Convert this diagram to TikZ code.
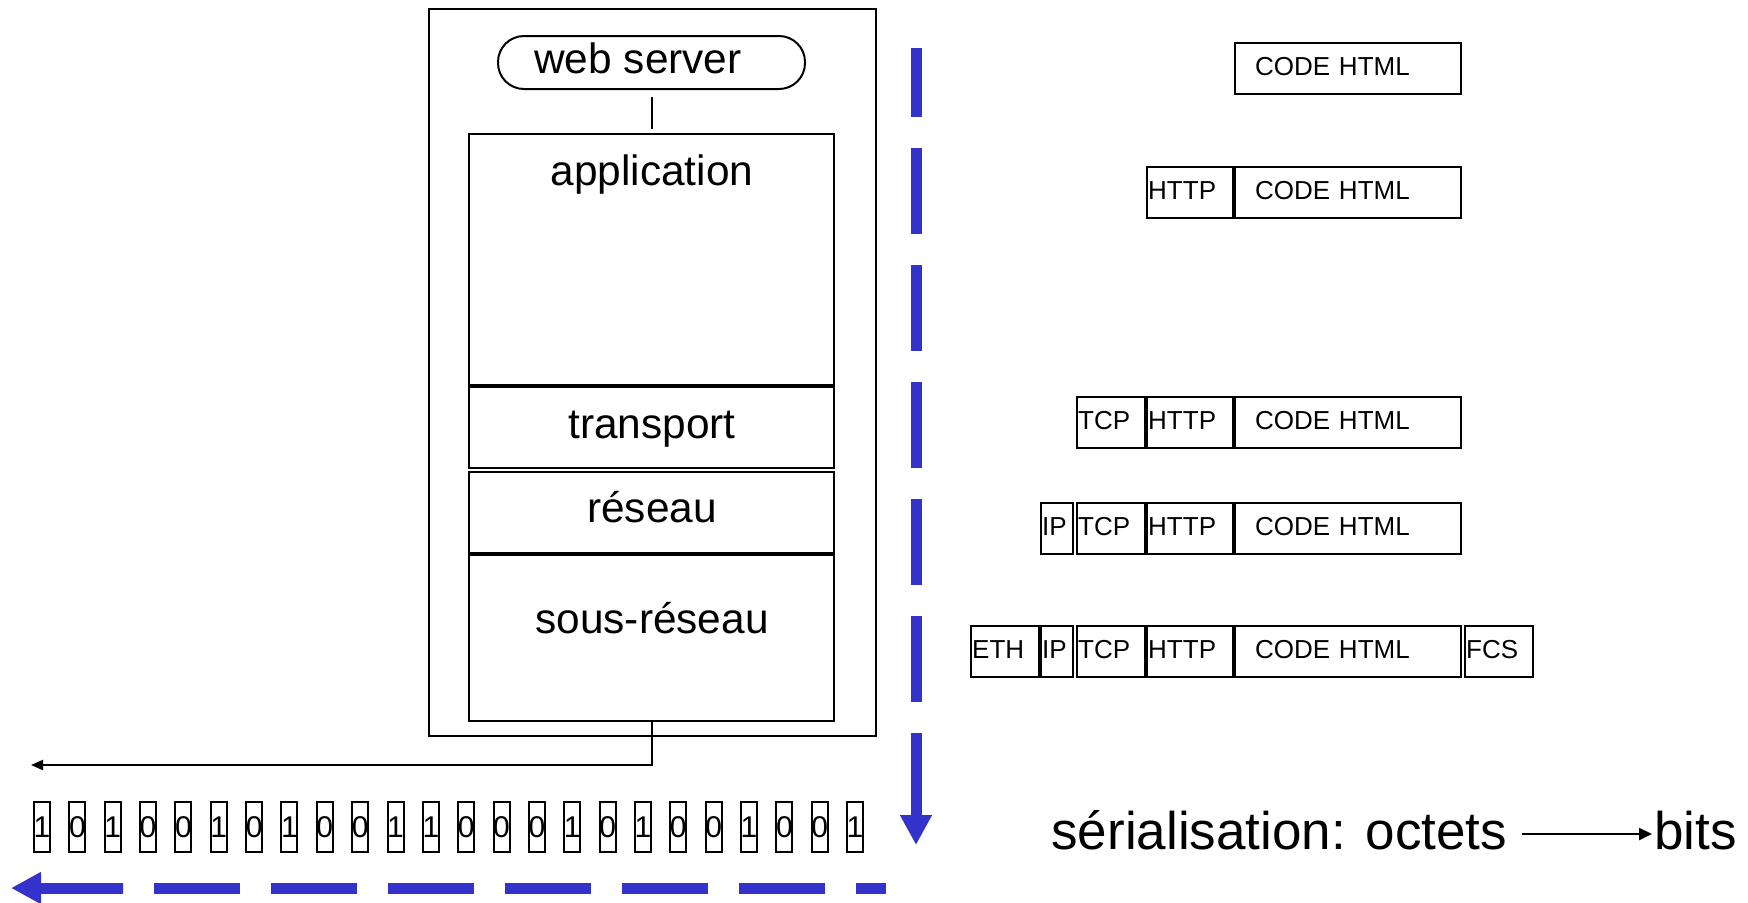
\documentclass[tikz,border=0pt]{standalone}
\usepackage{fontspec}
\setmainfont{Liberation Sans}
\usetikzlibrary{arrows.meta,fit,calc}
\definecolor{flow}{RGB}{51,51,204}

\begin{document}
\begin{tikzpicture}[x=0.5pt,y=-0.5pt,
  layer/.style={draw, line width=1pt, inner sep=0pt},
  lbl/.style={font=\fontsize{21.2}{25}\selectfont, anchor=base, inner sep=0pt},
  pkt/.style={draw, line width=1.2pt, minimum height=25.5pt, inner xsep=0.5pt,
    inner ysep=0pt, text width=#1, align=left, anchor=north west,
    text height=9.3pt, text depth=2.2pt,
    font=\fontsize{13}{15}\selectfont},
  bit/.style={draw, line width=1pt, minimum width=8pt, minimum height=25pt,
    inner sep=0pt, font=\fontsize{15}{18}\selectfont},
  wire/.style={line width=1pt},
  flowline/.style={flow, line width=5.5pt},
  flowtip/.style={flow, line width=5.5pt, -{Triangle[length=15pt,width=15pt]}},
  big/.style={font=\fontsize{26.5}{30}\selectfont, anchor=base west, inner sep=0pt},
]
\useasboundingbox (0,0) rectangle (1748,902);

% protocol stack of the host
\node[layer, fit={(429,9) (876,736)}] (host) {};
\node[layer, rounded corners=13pt, fit={(498,36) (805,89)}] (ws) {};
\node[layer, fit={(469,134) (834,385)}] (app) {};
\node[layer, fit={(469,387) (834,468)}] (trans) {};
\node[layer, fit={(469,472) (834,553)}] (net) {};
\node[layer, fit={(469,555) (834,721)}] (link) {};

\node[lbl] (wstxt) at (638,73) {web server};
\node[lbl] (apptxt) at (652,185) {application};
\node[lbl] (transtxt) at (652,438) {transport};
\node[lbl] (nettxt) at (652,522) {réseau};
\node[lbl] (linktxt) at (652,633) {sous-réseau};

\draw[wire, shorten <=3.5pt, shorten >=2pt] (ws.south) -- (app.north);
\coordinate (wireend) at (31,765);
\draw[wire, -{Triangle[length=6pt,width=5pt]}] (link.south) |- (wireend);

% encapsulation, one row per layer
\node[pkt=112pt] (c1) at (1234,42) {\hspace*{9.5pt}CODE HTML};

\node[pkt=42pt]  (h2) at (1146,166) {HTTP};
\node[pkt=112pt] (c2) at (1234,166) {\hspace*{9.5pt}CODE HTML};

\node[pkt=33pt]  (t3) at (1076,396) {TCP};
\node[pkt=42pt]  (h3) at (1146,396) {HTTP};
\node[pkt=112pt] (c3) at (1234,396) {\hspace*{9.5pt}CODE HTML};

\node[pkt=15pt]  (i4) at (1040,502) {IP};
\node[pkt=33pt]  (t4) at (1076,502) {TCP};
\node[pkt=42pt]  (h4) at (1146,502) {HTTP};
\node[pkt=112pt] (c4) at (1234,502) {\hspace*{9.5pt}CODE HTML};

\node[pkt=33pt]  (e5) at (970,625) {ETH};
\node[pkt=15pt]  (i5) at (1040,625) {IP};
\node[pkt=33pt]  (t5) at (1076,625) {TCP};
\node[pkt=42pt]  (h5) at (1146,625) {HTTP};
\node[pkt=112pt] (c5) at (1234,625) {\hspace*{9.5pt}CODE HTML};
\node[pkt=33pt]  (f5) at (1464,625) {FCS};

% bit stream
\foreach \b [count=\i from 0] in {1,0,1,0,0,1,0,1,0,0,1,1,0,0,0,1,0,1,0,0,1,0,0,1}
  \node[bit] (bit\i) at ({42+35.35*\i},827) {\makebox[0pt]{\b}};

% downward and leftward flow
\coordinate (vtop) at (916,48);
\coordinate (vmid) at (916,733);
\coordinate (vend) at (916,845);
\draw[flowline, dash pattern=on 43pt off 15.5pt, dash phase=8.5pt] (vtop) -- (vmid);
\draw[flowtip] (vmid) -- (vend);

\coordinate (hstart) at (886,888);
\coordinate (hmid) at (123,888);
\coordinate (hend) at (11,888);
\draw[flowline, dash pattern=on 43pt off 15.5pt, dash phase=28pt] (hstart) -- (hmid);
\draw[flowtip] (hmid) -- (hend);

% serialisation caption
\node[big] (ser) at (1051,849) {sérialisation: octets};
\node[big] (bits) at (1654,849) {bits};
\draw[line width=1.2pt, -{Triangle[length=6.5pt,width=6pt]}]
  ($(ser.base east)+(15,-15)$) -- ($(bits.base west)+(-2,-15)$);
\end{tikzpicture}
\end{document}
